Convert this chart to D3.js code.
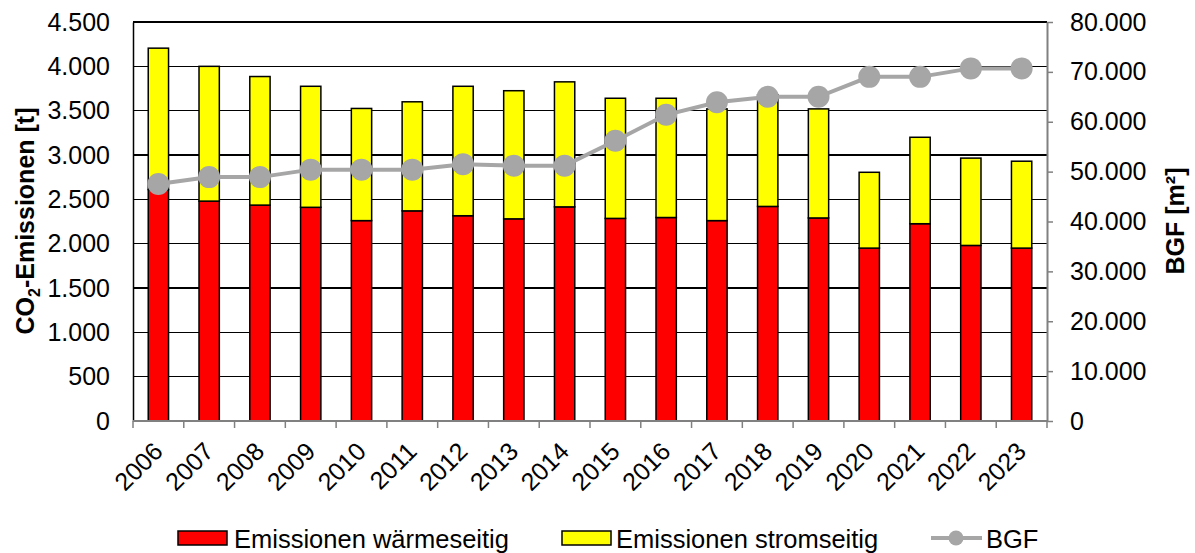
<!DOCTYPE html>
<html><head><meta charset="utf-8">
<script src="https://cdn.jsdelivr.net/npm/d3@7"></script>
<style>
html,body{margin:0;padding:0;background:#fff;}
text{font-family:"Liberation Sans",Arial,sans-serif;}
</style></head>
<body>
<svg id="chart" width="1195" height="553"></svg>
<script>
const years = ["2006","2007","2008","2009","2010","2011","2012","2013","2014","2015","2016","2017","2018","2019","2020","2021","2022","2023"];
const heat  = [2610, 2480, 2435, 2410, 2260, 2370, 2315, 2280, 2415, 2285, 2295, 2260, 2420, 2290, 1950, 2225, 1980, 1950];
const power = [1595, 1520, 1450, 1365, 1265, 1230, 1460, 1445, 1410, 1355, 1345, 1260, 1260, 1230, 855, 975, 985, 980];
const bgf   = [47500, 48900, 48900, 50400, 50400, 50400, 51500, 51200, 51200, 56200, 61400, 63900, 65000, 65000, 69000, 69000, 70700, 70700];
const leftTicks  = [0,500,1000,1500,2000,2500,3000,3500,4000,4500];
const rightTicks = [0,10000,20000,30000,40000,50000,60000,70000,80000];
const seriesNames = ["Emissionen wärmeseitig","Emissionen stromseitig","BGF"];

const svg = d3.select("#chart");
const L = 133, R = 1047, T = 22, B = 421;
const x = d3.scaleBand().domain(years).range([L, R]).paddingInner(0).paddingOuter(0);
const y = d3.scaleLinear().domain([0, 4500]).range([B, T]);
const y2 = d3.scaleLinear().domain([0, 80000]).range([B, T]);
const de = d3.formatLocale({decimal: ",", thousands: ".", grouping: [3], currency: ["", "€"]});
const fmt = de.format(",");

// gridlines
svg.append("g").selectAll("line").data(leftTicks.filter(d => d > 0 && d < 4500)).join("line")
  .attr("x1", L).attr("x2", R).attr("y1", d => y(d)).attr("y2", d => y(d))
  .attr("stroke", "#000").attr("stroke-width", 1.2).attr("shape-rendering", "crispEdges");
svg.append("line").attr("x1", L).attr("x2", R).attr("y1", y(4500)).attr("y2", y(4500))
  .attr("stroke", "#000").attr("stroke-width", 2);

// bars
const bw = x.bandwidth() * 0.4;
const bars = svg.append("g");
years.forEach((yr, i) => {
  const cx = x(yr) + x.bandwidth() / 2;
  bars.append("rect").attr("x", cx - bw / 2).attr("width", bw)
    .attr("y", y(heat[i])).attr("height", y(0) - y(heat[i]))
    .attr("fill", "#FF0000").attr("stroke", "#000").attr("stroke-width", 1.5);
  bars.append("rect").attr("x", cx - bw / 2).attr("width", bw)
    .attr("y", y(heat[i] + power[i])).attr("height", y(heat[i]) - y(heat[i] + power[i]))
    .attr("fill", "#FFFF00").attr("stroke", "#000").attr("stroke-width", 1.5);
});

// left axis
const gl = svg.append("g").attr("transform", `translate(${L},0)`)
  .call(d3.axisLeft(y).tickValues(leftTicks).tickSize(0).tickPadding(23).tickFormat(fmt));
gl.select(".domain").attr("stroke", "#000").attr("stroke-width", 1.5);
gl.selectAll("text").attr("font-size", 25).attr("fill", "#000").attr("font-family", "Liberation Sans, Arial, sans-serif");

// right axis
const gr = svg.append("g").attr("transform", `translate(${R},0)`)
  .call(d3.axisRight(y2).tickValues(rightTicks).tickSize(6).tickSizeOuter(0).tickPadding(17).tickFormat(fmt));
gr.select(".domain").attr("stroke", "#808080").attr("stroke-width", 2);
gr.selectAll(".tick line").attr("stroke", "#808080").attr("stroke-width", 1.5);
gr.selectAll("text").attr("font-size", 25).attr("fill", "#000").attr("font-family", "Liberation Sans, Arial, sans-serif");

// bottom axis
svg.append("line").attr("x1", L).attr("x2", R).attr("y1", B).attr("y2", B)
  .attr("stroke", "#808080").attr("stroke-width", 2);
const bounds = years.map(d => x(d)).concat([x.range()[1]]);
svg.append("g").selectAll("line").data(bounds).join("line")
  .attr("x1", d => d).attr("x2", d => d).attr("y1", B).attr("y2", B + 7)
  .attr("stroke", "#808080").attr("stroke-width", 1.5);
svg.append("g").selectAll("text").data(years).join("text")
  .attr("transform", d => `translate(${x(d) + x.bandwidth() / 2 + 6},${B + 32}) rotate(-45)`)
  .attr("text-anchor", "end").attr("font-size", 25).attr("fill", "#000").text(d => d);

// BGF line
const line = d3.line().x((d, i) => x(years[i]) + x.bandwidth() / 2).y(d => y2(d));
svg.append("path").datum(bgf).attr("d", line).attr("fill", "none")
  .attr("stroke", "#A6A6A6").attr("stroke-width", 4);
svg.append("g").selectAll("circle").data(bgf).join("circle")
  .attr("cx", (d, i) => x(years[i]) + x.bandwidth() / 2).attr("cy", d => y2(d))
  .attr("r", 11).attr("fill", "#A6A6A6");

// axis titles
const t1 = svg.append("text").attr("transform", "translate(34,221) rotate(-90)")
  .attr("text-anchor", "middle").attr("font-size", 25).attr("font-weight", "bold").attr("fill", "#000");
t1.append("tspan").text("CO");
t1.append("tspan").attr("font-size", 16).attr("dy", 6).text("2");
t1.append("tspan").attr("dy", -6).text("-Emissionen [t]");
svg.append("text").attr("transform", "translate(1184,221) rotate(-90)")
  .attr("text-anchor", "middle").attr("font-size", 25).attr("font-weight", "bold").attr("fill", "#000")
  .text("BGF [m²]");

// legend
const lg = svg.append("g");
lg.append("rect").attr("x", 178).attr("y", 531).attr("width", 49).attr("height", 14)
  .attr("fill", "#FF0000").attr("stroke", "#000").attr("stroke-width", 1.5);
lg.append("text").attr("x", 234).attr("y", 548).attr("font-size", 25.5).text(seriesNames[0]);
lg.append("rect").attr("x", 562).attr("y", 531).attr("width", 49).attr("height", 14)
  .attr("fill", "#FFFF00").attr("stroke", "#000").attr("stroke-width", 1.5);
lg.append("text").attr("x", 616).attr("y", 548).attr("font-size", 25.5).text(seriesNames[1]);
lg.append("line").attr("x1", 931).attr("x2", 982).attr("y1", 538).attr("y2", 538)
  .attr("stroke", "#A6A6A6").attr("stroke-width", 4);
lg.append("circle").attr("cx", 956).attr("cy", 538).attr("r", 7.5).attr("fill", "#A6A6A6");
lg.append("text").attr("x", 986).attr("y", 548).attr("font-size", 25.5).text(seriesNames[2]);
</script>
</body></html>
